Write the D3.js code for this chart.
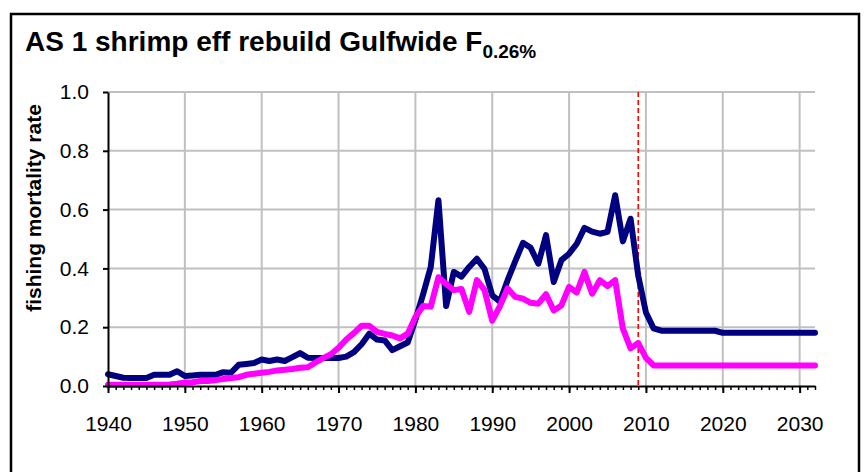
<!DOCTYPE html>
<html>
<head>
<meta charset="utf-8">
<script src="https://cdn.jsdelivr.net/npm/d3@7"></script>
<style>
  html, body { margin: 0; padding: 0; background: #fff; }
  svg { display: block; }
  text { font-family: "Liberation Sans", Arial, sans-serif; fill: #000; }
</style>
</head>
<body>
<svg id="chart" width="866" height="472"></svg>
<script>
// Fishing mortality by year, 1940-2032
const years = d3.range(1940, 2033);

const fShrimp = [
  0.040, 0.034, 0.028, 0.027, 0.027, 0.027, 0.038, 0.038, 0.038, 0.050, // 1940s
  0.034, 0.036, 0.038, 0.038, 0.038, 0.047, 0.045, 0.072, 0.075, 0.078, // 1950s
  0.090, 0.085, 0.090, 0.085, 0.098, 0.112, 0.096, 0.095, 0.095, 0.095, // 1960s
  0.095, 0.100, 0.115, 0.142, 0.178, 0.158, 0.155, 0.122, 0.135, 0.148, // 1970s
  0.225, 0.312, 0.405, 0.632, 0.272, 0.388, 0.372, 0.405, 0.433, 0.398, // 1980s
  0.308, 0.287, 0.360, 0.425, 0.487, 0.470, 0.416, 0.513, 0.354, 0.428, // 1990s
  0.450, 0.484, 0.538, 0.525, 0.518, 0.524, 0.649, 0.492, 0.569, 0.375, // 2000s
  0.250, 0.196, 0.188, 0.188, 0.188, 0.188, 0.188, 0.188, 0.188, 0.188, // 2010s
  0.181, 0.181, 0.181, 0.181, 0.181, 0.181, 0.181, 0.181, 0.181, 0.181, // 2020s
  0.181, 0.181, 0.181                                                    // 2030-2032
];

const fOther = [
  0.004, 0.004, 0.004, 0.004, 0.004, 0.004, 0.004, 0.004, 0.005, 0.008, // 1940s
  0.012, 0.013, 0.017, 0.017, 0.020, 0.024, 0.027, 0.030, 0.038, 0.042, // 1950s
  0.045, 0.048, 0.053, 0.055, 0.058, 0.062, 0.064, 0.080, 0.095, 0.108, // 1960s
  0.130, 0.158, 0.180, 0.205, 0.205, 0.184, 0.177, 0.172, 0.162, 0.178, // 1970s
  0.235, 0.272, 0.270, 0.370, 0.347, 0.326, 0.330, 0.252, 0.360, 0.326, // 1980s
  0.222, 0.272, 0.332, 0.303, 0.297, 0.283, 0.280, 0.312, 0.257, 0.274, // 1990s
  0.337, 0.318, 0.388, 0.314, 0.360, 0.340, 0.360, 0.195, 0.128, 0.146, // 2000s
  0.096, 0.070, 0.070, 0.070, 0.070, 0.070, 0.070, 0.070, 0.070, 0.070, // 2010s
  0.070, 0.070, 0.070, 0.070, 0.070, 0.070, 0.070, 0.070, 0.070, 0.070, // 2020s
  0.070, 0.070, 0.070                                                    // 2030-2032
];

const xTickYears = [1940, 1950, 1960, 1970, 1980, 1990, 2000, 2010, 2020, 2030];
const yTickValues = [0, 0.2, 0.4, 0.6, 0.8, 1.0];
const markerYear = [2009];

const svg = d3.select("#chart");

// outer chart frame
svg.append("rect")
  .attr("x", 11).attr("y", 14)
  .attr("width", 848).attr("height", 480)
  .attr("fill", "none").attr("stroke", "#000").attr("stroke-width", 2.5);

const plot = { left: 108, right: 815, top: 92, bottom: 386 };

const x = d3.scaleLinear().domain([1940, 2032]).range([plot.left, plot.right]);
const y = d3.scaleLinear().domain([0, 1]).range([plot.bottom, plot.top]);

// gridlines
svg.append("g")
  .selectAll("line")
  .data(yTickValues.filter(v => v > 0))
  .join("line")
  .attr("x1", plot.left).attr("x2", plot.right)
  .attr("y1", d => y(d)).attr("y2", d => y(d))
  .attr("stroke", "#c0c0c0").attr("stroke-width", 2);

svg.append("g")
  .selectAll("line")
  .data(xTickYears.filter(v => v > 1940))
  .join("line")
  .attr("x1", d => x(d)).attr("x2", d => x(d))
  .attr("y1", plot.top).attr("y2", plot.bottom)
  .attr("stroke", "#c0c0c0").attr("stroke-width", 2);

// 2009 reference line
svg.append("g")
  .selectAll("line")
  .data(markerYear)
  .join("line")
  .attr("x1", d => x(d)).attr("x2", d => x(d))
  .attr("y1", plot.top).attr("y2", plot.bottom)
  .attr("stroke", "#ff0000").attr("stroke-width", 1.6)
  .attr("stroke-dasharray", "5,3");

// series lines
const line = d3.line()
  .x(d => x(d[0]))
  .y(d => y(d[1]));

svg.append("path")
  .datum(years.map((yr, i) => [yr, fShrimp[i]]))
  .attr("d", line)
  .attr("fill", "none")
  .attr("stroke", "#000080")
  .attr("stroke-width", 6)
  .attr("stroke-linejoin", "round")
  .attr("stroke-linecap", "round");

svg.append("path")
  .datum(years.map((yr, i) => [yr, fOther[i]]))
  .attr("d", line)
  .attr("fill", "none")
  .attr("stroke", "#ff00ff")
  .attr("stroke-width", 6)
  .attr("stroke-linejoin", "round")
  .attr("stroke-linecap", "round");

// x axis: yearly minor ticks, decade major ticks with labels
const xMinor = svg.append("g")
  .attr("transform", `translate(0,${plot.bottom})`)
  .call(d3.axisBottom(x).tickValues(years).tickSize(4).tickFormat(""));
xMinor.select(".domain").remove();
xMinor.selectAll(".tick line").attr("stroke", "#000").attr("stroke-width", 1.5);

const xAxis = svg.append("g")
  .attr("transform", `translate(0,${plot.bottom})`)
  .call(d3.axisBottom(x).tickValues(xTickYears).tickSize(7).tickSizeOuter(0)
    .tickPadding(23).tickFormat(d3.format("d")));
xAxis.select(".domain").attr("stroke", "#000").attr("stroke-width", 2);
xAxis.selectAll(".tick line").attr("stroke", "#000").attr("stroke-width", 2);
xAxis.selectAll(".tick text")
  .style("font-size", "21px")
  .style("font-family", "'Liberation Sans', Arial, sans-serif");

// y axis
const yAxis = svg.append("g")
  .attr("transform", `translate(${plot.left},0)`)
  .call(d3.axisLeft(y).tickValues(yTickValues).tickSize(5).tickSizeOuter(0)
    .tickPadding(14).tickFormat(d3.format(".1f")));
yAxis.select(".domain").attr("stroke", "#000").attr("stroke-width", 2);
yAxis.selectAll(".tick line").attr("stroke", "#000").attr("stroke-width", 2);
yAxis.selectAll(".tick text")
  .style("font-size", "21px")
  .style("font-family", "'Liberation Sans', Arial, sans-serif");

// axis title
svg.append("text")
  .attr("transform", "translate(41,208) rotate(-90)")
  .attr("text-anchor", "middle")
  .style("font-size", "21px")
  .style("font-weight", "bold")
  .text("fishing mortality rate");

// chart title with subscript
const title = svg.append("text")
  .attr("x", 25).attr("y", 51)
  .style("font-size", "28px")
  .style("font-weight", "bold");
title.append("tspan").text("AS 1 shrimp eff rebuild Gulfwide F");
title.append("tspan")
  .attr("dy", 7)
  .style("font-size", "19px")
  .text("0.26%");
</script>
</body>
</html>
